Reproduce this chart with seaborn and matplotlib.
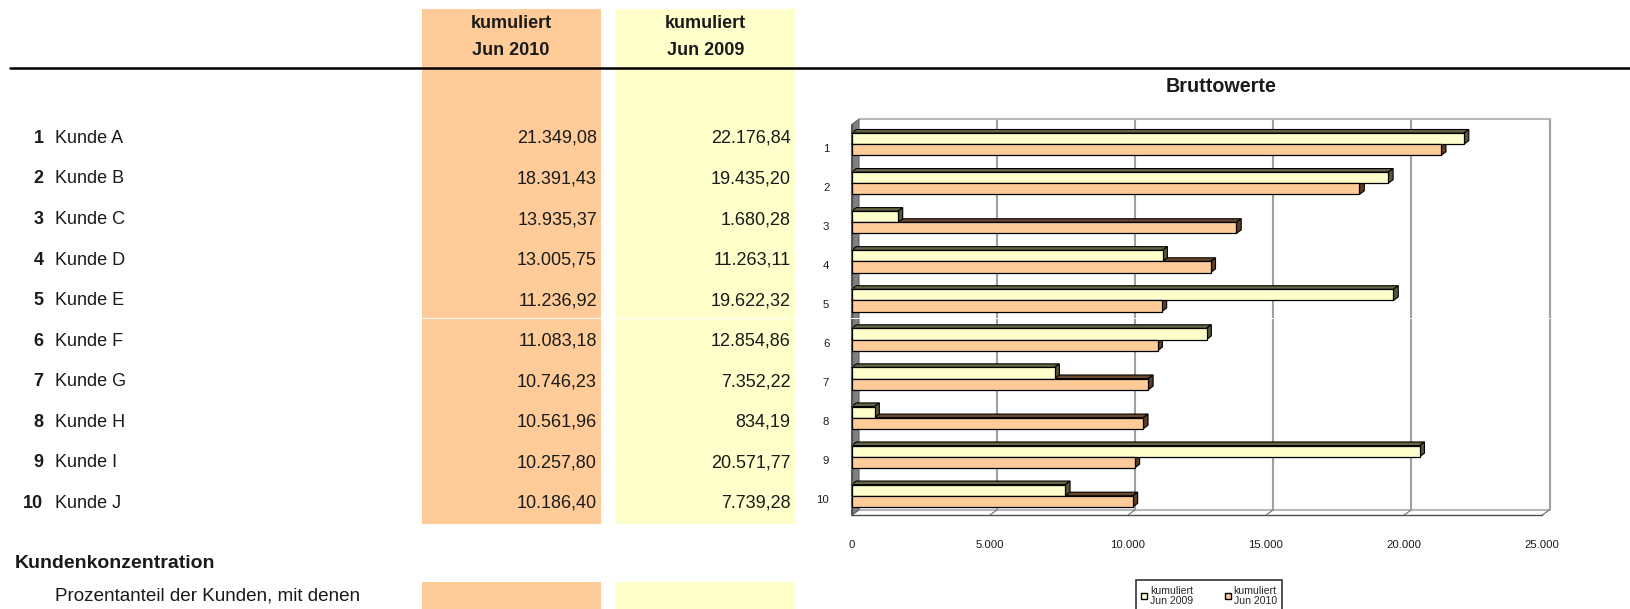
import numpy as np
import pandas as pd
import matplotlib
matplotlib.use("Agg")
import matplotlib.pyplot as plt
import seaborn as sns
from matplotlib.patches import Rectangle, Polygon
from matplotlib.lines import Line2D
from matplotlib.transforms import (IdentityTransform, blended_transform_factory, offset_copy,
                                   ScaledTranslation)

# ---------------- data ----------------
nummern = ["1", "2", "3", "4", "5", "6", "7", "8", "9", "10"]
kunden = ["Kunde A", "Kunde B", "Kunde C", "Kunde D", "Kunde E",
          "Kunde F", "Kunde G", "Kunde H", "Kunde I", "Kunde J"]
jun2010 = [21349.08, 18391.43, 13935.37, 13005.75, 11236.92,
           11083.18, 10746.23, 10561.96, 10257.80, 10186.40]
jun2009 = [22176.84, 19435.20, 1680.28, 11263.11, 19622.32,
           12854.86, 7352.22, 834.19, 20571.77, 7739.28]
serien = ["kumuliert\nJun 2009", "kumuliert\nJun 2010"]
header_2010 = "kumuliert\nJun 2010"
header_2009 = "kumuliert\nJun 2009"
x_ticks = [0, 5000, 10000, 15000, 20000, 25000]
titel = "Bruttowerte"

C_OR = "#FFCC99"
C_YE = "#FFFFCC"

sns.set_theme(style="white")
plt.rcParams["font.family"] = ["Liberation Sans", "DejaVu Sans"]

W, H = 1630, 609
def fx(p):
    return p / W
def fy(p):
    return 1 - p / H

def de(v):
    s = f"{v:,.2f}"
    return s.replace(",", "X").replace(".", ",").replace("X", ".")

def de_int(v):
    return f"{int(v):,}".replace(",", ".")

fig = plt.figure(figsize=(W / 100, H / 100), dpi=100)
fig.patch.set_facecolor("white")

# ---------------- table part ----------------
col_top, col_bot = 9.3, 524
for (x0, x1, c) in [(421.5, 600.7, C_OR), (616, 795, C_YE)]:
    fig.add_artist(Rectangle((fx(x0), fy(col_bot)), (x1 - x0) / W, (col_bot - col_top) / H,
                             transform=fig.transFigure, facecolor=c, edgecolor="none", zorder=0))
    fig.add_artist(Rectangle((fx(x0), fy(612)), (x1 - x0) / W, (612 - 582) / H,
                             transform=fig.transFigure, facecolor=c, edgecolor="none", zorder=0))

for cx, txt in [(511, header_2010), (705.5, header_2009)]:
    l1, l2 = txt.split("\n")
    fig.text(fx(cx), fy(24), l1, ha="center", va="center", fontsize=13, fontweight="bold", color="#1a1a1a")
    fig.text(fx(cx), fy(50.5), l2, ha="center", va="center", fontsize=13, fontweight="bold", color="#1a1a1a")

fig.add_artist(Line2D([fx(10), fx(1630)], [fy(68.3), fy(68.3)], transform=fig.transFigure,
                      color="black", lw=1.8, zorder=5))

row_y0, row_dy = 138.4, 40.55
for i in range(len(kunden)):
    y = fy(row_y0 + i * row_dy)
    fig.text(fx(43.5), y, nummern[i], ha="right", va="center", fontsize=13, fontweight="bold", color="#1a1a1a")
    fig.text(fx(55), y, kunden[i], ha="left", va="center", fontsize=13, color="#1a1a1a")
    fig.text(fx(597), y, de(jun2010[i]), ha="right", va="center", fontsize=13, color="#1a1a1a")
    fig.text(fx(790.5), y, de(jun2009[i]), ha="right", va="center", fontsize=13, color="#1a1a1a")

fig.text(fx(15), fy(563), "Kundenkonzentration", ha="left", va="center", fontsize=14,
         fontweight="bold", color="#1a1a1a")
fig.text(fx(55), fy(596), "Prozentanteil der Kunden, mit denen", ha="left", va="center",
         fontsize=13.6, color="#1a1a1a")

# ---------------- chart ----------------
ax_l, ax_r, ax_t, ax_b = 851.5, 1542, 124.7, 515.3
ax = fig.add_axes([fx(ax_l), fy(ax_b), (ax_r - ax_l) / W, (ax_b - ax_t) / H])
ax.patch.set_visible(False)

df = pd.DataFrame({
    "Nr": nummern + nummern,
    "Wert": jun2009 + jun2010,
    "Serie": [serien[0]] * len(nummern) + [serien[1]] * len(nummern),
})
sns.barplot(data=df, y="Nr", x="Wert", hue="Serie", order=nummern, hue_order=serien,
            palette={serien[0]: C_YE, serien[1]: C_OR}, orient="h", width=0.57,
            edgecolor="black", linewidth=0.9, saturation=1, ax=ax, zorder=3)
bars = [p for p in ax.patches]
handles, labels = ax.get_legend_handles_labels()
if ax.get_legend() is not None:
    ax.get_legend().remove()

ax.set_xlim(x_ticks[0], x_ticks[-1])
ax.set_ylim(len(nummern) - 0.5, -0.5)
ax.set_xlabel("")
ax.set_ylabel("")
ax.set_xticks(x_ticks)
ax.set_xticklabels([de_int(v) for v in x_ticks], fontsize=8.2, color="#1a1a1a")
ax.set_yticks(range(len(nummern)))
ax.set_yticklabels(nummern, fontsize=8.2, color="#1a1a1a")
ax.tick_params(axis="y", which="major", length=0, pad=16)
ax.tick_params(axis="x", which="major", length=3, width=0.8, color="#404040", pad=15, direction="out")
ax.set_yticks(np.arange(-0.5, len(nummern), 1), minor=True)
ax.tick_params(axis="y", which="minor", length=3, width=0.8, color="#404040", direction="out")
for s in ["top", "right"]:
    ax.spines[s].set_visible(False)
for s in ["left", "bottom"]:
    ax.spines[s].set_color("#505050")
    ax.spines[s].set_linewidth(1.0)
ax.grid(False)
shift = ScaledTranslation(0, -2.5 / 72, fig.dpi_scale_trans)
for lab in ax.get_yticklabels():
    lab.set_transform(lab.get_transform() + shift)

# back wall (offset in pixels)
BX, BY = 7.5, 5.5
tb = offset_copy(blended_transform_factory(ax.transData, ax.transAxes), fig=fig, x=BX, y=BY, units="dots")
for v in x_ticks[1:]:
    ax.plot([v, v], [0, 1], transform=tb, color="#a0a0a0", lw=1.5, zorder=0.5, clip_on=False)
ax.plot([x_ticks[0], x_ticks[-1]], [1, 1], transform=tb, color="#b8b8b8", lw=1.5, zorder=0.5, clip_on=False)
ax.plot([x_ticks[0], x_ticks[-1]], [0, 0], transform=tb, color="#b8b8b8", lw=1.5, zorder=0.5, clip_on=False)

def disp(x, y):
    return ax.transData.transform((x, y))

ident = IdentityTransform()
# floor diagonals
for v in x_ticks:
    p = disp(v, len(nummern) - 0.5)
    ln = Line2D([p[0], p[0] + BX], [p[1], p[1] + BY], transform=ident, color="#707070", lw=0.8, zorder=0.6)
    ax.add_artist(ln)
    ln.set_clip_on(False)

# left wall
ft = disp(0, -0.5)
fb = disp(0, len(nummern) - 0.5)
wall = Polygon([ft, fb, (fb[0] + BX, fb[1] + BY), (ft[0] + BX, ft[1] + BY)], closed=True,
               transform=ident, facecolor="#808080", edgecolor="#606060", lw=0.8, zorder=0.8)
ax.add_artist(wall)
wall.set_clip_on(False)

# 3D faces of bars
DX, DY = 4.8, 3.6
for p in bars:
    c = p.get_facecolor()
    if c[1] < 0.9:
        dark = tuple(np.array(c[:3]) * np.array([0.42, 0.36, 0.30]))
    else:
        dark = tuple(np.array(c[:3]) * np.array([0.40, 0.40, 0.34]))
    dark_side = tuple(np.array(dark) * 0.85)
    x0, x1 = p.get_x(), p.get_x() + p.get_width()
    y0, y1 = p.get_y(), p.get_y() + p.get_height()
    a = disp(x0, y0)  # top-left (display)
    b = disp(x1, y0)  # top-right
    d = disp(x1, y1)  # bottom-right
    top = Polygon([a, b, (b[0] + DX, b[1] + DY), (a[0] + DX, a[1] + DY)], closed=True,
                  transform=ident, facecolor=dark, edgecolor="black", lw=0.8, zorder=1.5)
    side = Polygon([b, (b[0] + DX, b[1] + DY), (d[0] + DX, d[1] + DY), d], closed=True,
                   transform=ident, facecolor=dark_side, edgecolor="black", lw=0.8, zorder=1.6)
    for poly in (top, side):
        ax.add_artist(poly)
        poly.set_clip_on(False)
for p in bars:
    p.set_zorder(3)

fig.text(fx(1221), fy(87), titel, ha="center", va="center", fontsize=14.2, fontweight="bold", color="#1a1a1a")

# thin white line artifact
fig.add_artist(Line2D([fx(421.5), fx(1553)], [fy(318.3), fy(318.3)], transform=fig.transFigure,
                      color="white", lw=0.7, zorder=10))

leg = fig.legend(handles, labels, loc="upper center", bbox_to_anchor=(fx(1208.8), fy(575)),
                 ncol=2, fontsize=7.6, frameon=True, fancybox=False, edgecolor="black",
                 handlelength=0.6, handleheight=0.6, handletextpad=0.25, columnspacing=3.0,
                 borderpad=0.5, labelspacing=0.2)
leg.get_frame().set_linewidth(1.2)
for t in leg.get_texts():
    t.set_multialignment("right")
    t.set_linespacing(1.05)
for h in leg.legend_handles:
    h.set_edgecolor("black")
    h.set_linewidth(1.0)

fig.savefig("out.png", dpi=100, facecolor="white")
